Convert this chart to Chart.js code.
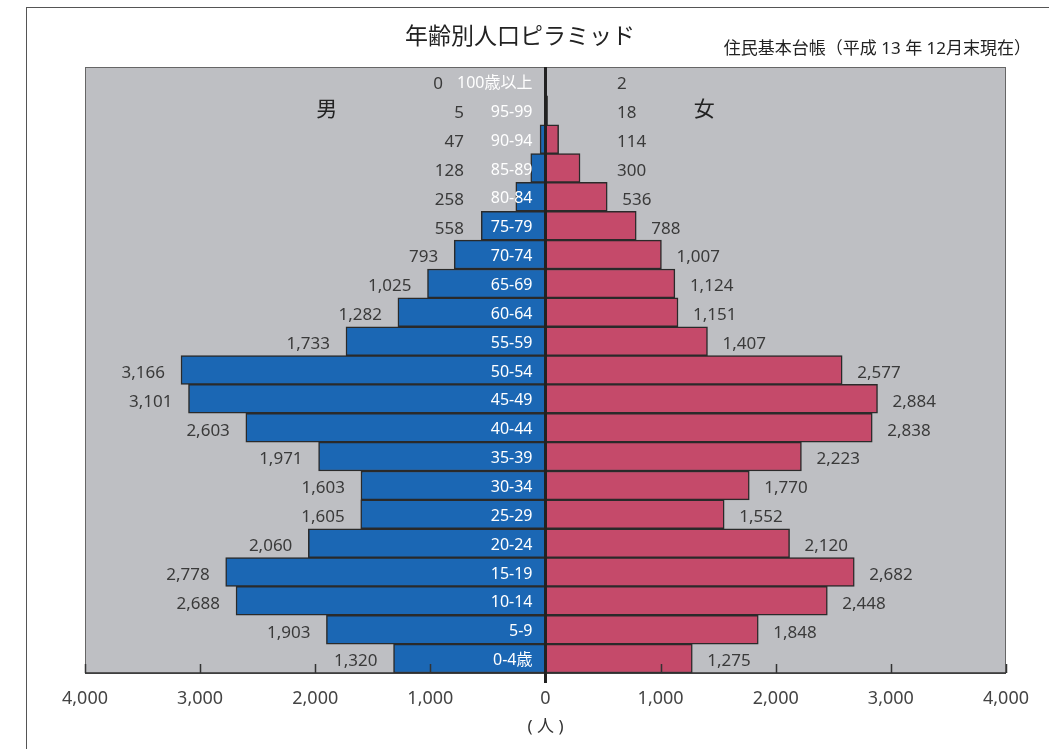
<!DOCTYPE html>
<html>
<head>
<meta charset="utf-8">
<script src="https://cdn.jsdelivr.net/npm/chart.js@4/dist/chart.umd.min.js"></script>
<style>
  html, body { margin: 0; padding: 0; background: #fff; }
  #wrap { position: relative; width: 1049px; height: 749px; overflow: hidden; }
  #frame { position: absolute; left: 26px; top: 7px; width: 1040px; height: 760px;
           border-left: 1.5px solid #555; border-top: 1.5px solid #555; }
  canvas { position: absolute; left: 0; top: 0; }
</style>
</head>
<body>
<div id="wrap">
  <div id="frame"></div>
  <canvas id="chartPiramide" width="1049" height="749"></canvas>
</div>
<script>
// faixas etarias (de cima para baixo)
var faixas = ['100歳以上', '95-99', '90-94', '85-89', '80-84', '75-79', '70-74', '65-69', '60-64', '55-59',
              '50-54', '45-49', '40-44', '35-39', '30-34', '25-29', '20-24', '15-19', '10-14', '5-9', '0-4歳'];
var homens = [0, 5, 47, 128, 258, 558, 793, 1025, 1282, 1733,
              3166, 3101, 2603, 1971, 1603, 1605, 2060, 2778, 2688, 1903, 1320];
var mulheres = [2, 18, 114, 300, 536, 788, 1007, 1124, 1151, 1407,
                2577, 2884, 2838, 2223, 1770, 1552, 2120, 2682, 2448, 1848, 1275];
var ticksX = [-4000, -3000, -2000, -1000, 0, 1000, 2000, 3000, 4000];

var titulo = '年齢別人口ピラミッド';
var subtitulo = '住民基本台帳（平成 13 年 12月末現在）';
var unidade = '( 人 )';
var fonte = '"Noto Sans", "Noto Sans CJK JP", sans-serif';

var ctx = document.getElementById('chartPiramide').getContext('2d');

// textos, fundo cinza e linha central
var pluginPiramide = {
    id: 'piramide',
    beforeDatasetsDraw: function (chart) {
        var a = chart.chartArea, c = chart.ctx;
        c.save();
        c.fillStyle = '#bebfc3';
        c.fillRect(a.left, a.top, a.right - a.left, a.bottom - a.top);
        c.strokeStyle = '#666';
        c.lineWidth = 1;
        c.strokeRect(a.left + 0.5, a.top + 0.5, a.right - a.left - 1, a.bottom - a.top);
        c.restore();
    },
    afterDraw: function (chart) {
        var a = chart.chartArea, c = chart.ctx;
        var x = chart.scales.x, y = chart.scales.y;
        var x0 = x.getPixelForValue(0);
        c.save();

        // linha de base e marcas internas
        c.strokeStyle = '#333';
        c.lineWidth = 1.5;
        c.beginPath();
        c.moveTo(a.left, a.bottom);
        c.lineTo(a.right, a.bottom);
        ticksX.forEach(function (t) {
            if (t === 0) return;
            var px = Math.round(x.getPixelForValue(t)) + 0.5;
            c.moveTo(px, a.bottom);
            c.lineTo(px, a.bottom - 9);
        });
        c.stroke();

        // linha central
        c.strokeStyle = '#222';
        c.lineWidth = 3;
        c.beginPath();
        c.moveTo(x0, a.top);
        c.lineTo(x0, a.bottom + 10);
        c.stroke();

        // rotulos
        c.textBaseline = 'middle';
        faixas.forEach(function (f, i) {
            var py = y.getPixelForValue(i);
            c.font = '16px ' + fonte;
            c.fillStyle = '#ffffff';
            c.textAlign = 'right';
            c.fillText(f, x0 - 13, py + 2);
            var esq = x0 - 13 - c.measureText(f).width;

            c.font = '17px ' + fonte;
            c.fillStyle = '#3a3a3a';
            var xm = Math.min(x.getPixelForValue(-homens[i]) - 16, 464, esq - 14);
            c.textAlign = 'right';
            c.fillText(homens[i].toLocaleString('en-US'), xm, py + 3);

            var xf = Math.max(x.getPixelForValue(mulheres[i]) + 15, 617);
            c.textAlign = 'left';
            c.fillText(mulheres[i].toLocaleString('en-US'), xf, py + 3);
        });

        // 男 / 女
        c.font = '21px ' + fonte;
        c.fillStyle = '#222';
        c.textAlign = 'center';
        c.fillText('男', x.getPixelForValue(-1900), y.getPixelForValue(1));
        c.fillText('女', x.getPixelForValue(1380), y.getPixelForValue(1));

        // titulo e subtitulo
        c.font = '23px ' + fonte;
        c.fillText(titulo, 520, 37);
        c.font = '17px ' + fonte;
        c.textAlign = 'right';
        c.fillText(subtitulo, 1031, 49);

        // unidade
        c.font = '17px ' + fonte;
        c.fillStyle = '#333';
        c.textAlign = 'center';
        c.fillText(unidade, x0, 727);
        c.restore();
    }
};

var data = {
    labels: faixas,
    datasets: [{
        label: '男',
        data: homens.map(function (v) { return -v; }),
        backgroundColor: '#1b67b4',
        borderColor: '#2a2a2a',
        borderWidth: 1.5,
        borderSkipped: false
    }, {
        label: '女',
        data: mulheres,
        backgroundColor: '#c54a6a',
        borderColor: '#2a2a2a',
        borderWidth: 1.5,
        borderSkipped: false
    }]
};

var options = {
    indexAxis: 'y',
    responsive: false,
    animation: false,
    barPercentage: 1,
    categoryPercentage: 1,
    layout: { padding: { left: 85, right: 43, top: 67, bottom: 0 } },
    plugins: {
        legend: { display: false },
        tooltip: { enabled: false }
    },
    scales: {
        x: {
            stacked: true,
            min: -4000,
            max: 4000,
            afterFit: function (s) { s.height = 76; },
            grid: { display: false, drawTicks: false },
            border: { display: false },
            ticks: {
                stepSize: 1000,
                padding: 15,
                color: '#444',
                font: { size: 18, family: fonte },
                callback: function (v) { return Math.abs(v).toLocaleString('en-US'); }
            }
        },
        y: {
            stacked: true,
            display: false
        }
    }
};

var myChart = new Chart(ctx, {
    type: 'bar',
    data: data,
    options: options,
    plugins: [pluginPiramide]
});
</script>
</body>
</html>
